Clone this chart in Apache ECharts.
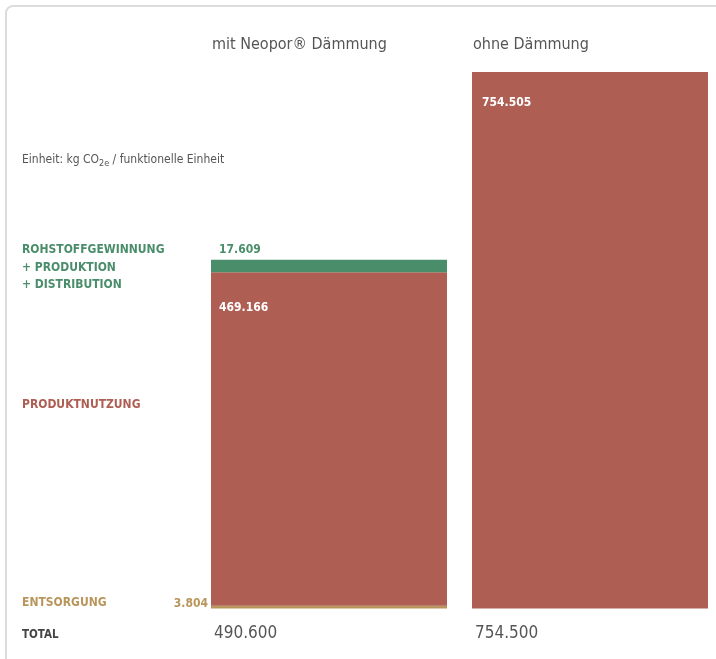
<!DOCTYPE html>
<html><head><meta charset="utf-8">
<script src="https://cdn.jsdelivr.net/npm/echarts@6/dist/echarts.min.js"></script>
<style>html,body{margin:0;padding:0;background:#fff}#c{width:716px;height:659px}</style>
</head><body><div id="c"></div>
<script>
const categories = ['mit Neopor® Dämmung', 'ohne Dämmung'];
const entsorgung = [3.804, null];
const produktnutzung = [469.166, 754.505];
const rohstoff = [17.609, null];
const totals = ['490.600', '754.500'];
const stageLabels = [['ROHSTOFFGEWINNUNG', '+ PRODUKTION', '+ DISTRIBUTION'], ['PRODUKTNUTZUNG'], ['ENTSORGUNG'], ['TOTAL']];
const fmt = v => v.toFixed(3);

const FONT = "'Liberation Sans Narrow','DejaVu Sans Condensed',sans-serif";
const RED = '#ae5e52', GREEN = '#4a8d6b', GOLD = '#b8955a', GRAY = '#555';
const chart = echarts.init(document.getElementById('c'));
const BARW = 236;

chart.setOption({
  animation: false,
  textStyle: { fontFamily: FONT },
  grid: { left: 329, right: 126, top: 72, bottom: 50.5 },
  xAxis: { type: 'category', data: categories, show: false, boundaryGap: false },
  yAxis: { type: 'value', min: 0, max: 754.505, show: false },
  series: [
    { name: 'Entsorgung', type: 'bar', stack: 's', barWidth: BARW, clip: false, itemStyle: { color: GOLD },
      data: entsorgung,
      label: { show: true, position: 'left', distance: 3, offset: [0, -3], color: GOLD, fontWeight: 'bold', fontSize: 12, fontFamily: FONT, formatter: p => fmt(p.value) } },
    { name: 'Produktnutzung', type: 'bar', stack: 's', barWidth: BARW, clip: false, itemStyle: { color: RED },
      data: produktnutzung.map((v, i) => ({ value: v, label: { position: i === 0 ? [8, 30] : [10, 25] } })),
      label: { show: true, color: '#fff', fontWeight: 'bold', fontSize: 12, fontFamily: FONT, formatter: p => fmt(p.value) } },
    { name: 'Rohstoff', type: 'bar', stack: 's', barWidth: BARW, clip: false, itemStyle: { color: GREEN },
      data: rohstoff,
      label: { show: true, position: [8, -16], color: GREEN, fontWeight: 'bold', fontSize: 12, fontFamily: FONT, formatter: p => fmt(p.value) } }
  ]
});

const g = [];
g.push({ type: 'rect', shape: { x: 6, y: 6, width: 900, height: 900, r: 7 }, style: { fill: 'none', stroke: '#dcdcdc', lineWidth: 2 }, silent: true, z: -1 });
categories.forEach((c, i) => {
  const cx = chart.convertToPixel({ xAxisIndex: 0 }, c);
  const left = cx - BARW / 2;
  g.push({ type: 'text', x: left + 1, y: 45, style: { text: c, font: '16px ' + FONT, fill: GRAY, textVerticalAlign: 'middle' } });
  g.push({ type: 'text', x: left + 3, y: 634, style: { text: totals[i], font: '17px ' + FONT, fill: GRAY, textVerticalAlign: 'middle' } });
});
g.push({ type: 'text', x: 22, y: 160, style: { rich: { a: { fontSize: 12, fontFamily: FONT, fill: GRAY }, s: { fontSize: 9, fontFamily: FONT, fill: GRAY, padding: [8, 0, 0, 0] } }, text: '{a|Einheit: kg CO}{s|2e}{a| / funktionelle Einheit}', fill: GRAY, textVerticalAlign: 'middle' } });
const stageColors = [GREEN, RED, GOLD, '#444'];
const stageY = [250, 405, 603, 635];
stageLabels.forEach((lines, k) => {
  lines.forEach((t, j) => {
    g.push({ type: 'text', x: 22, y: stageY[k] + j * 17.5, style: { text: t, font: 'bold ' + (k === 3 ? 11.5 : 12) + 'px ' + FONT, fill: stageColors[k], textVerticalAlign: 'middle' } });
  });
});
chart.setOption({ graphic: g });
</script></body></html>
